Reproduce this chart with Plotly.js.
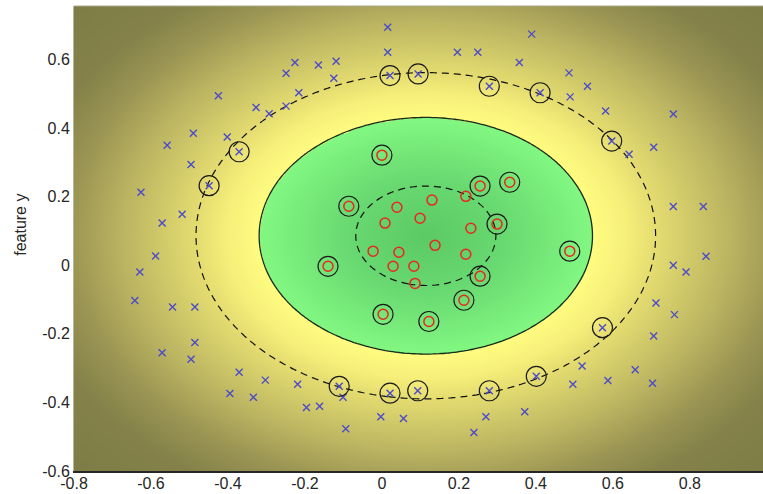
<!DOCTYPE html>
<html>
<head>
<meta charset="utf-8">
<script src="https://cdn.plot.ly/plotly-3.0.1.min.js"></script>
<style>html,body{margin:0;padding:0;background:#fff;}#chart{width:763px;height:494px;}</style>
</head>
<body>
<div id="chart"></div>
<script>
// ---- data ----
// class +1 (red circles), not support vectors
const posX = [-0.023, 0.044, 0.029, 0.083, 0.086, 0.008, 0.039, 0.099, 0.130, 0.218, 0.231, 0.138, 0.218];
const posY = [0.041, 0.038, -0.003, -0.003, -0.053, 0.123, 0.169, 0.137, 0.190, 0.201, 0.108, 0.058, 0.032];
// class +1 support vectors (circled)
const posSvX = [0.000, -0.086, -0.140, 0.003, 0.122, 0.213, 0.255, 0.299, 0.255, 0.332, 0.488];
const posSvY = [0.321, 0.172, -0.003, -0.143, -0.164, -0.102, -0.032, 0.120, 0.231, 0.242, 0.041];
// class -1 (blue crosses), not support vectors
const negX = [-0.626, -0.571, -0.519, -0.558, -0.490, -0.496, -0.425, -0.402, -0.327, -0.293, -0.249, -0.249,
  -0.226, -0.216, -0.165, -0.125, -0.119, 0.015, 0.015, 0.196, 0.249, 0.357, 0.389, 0.486, 0.534, 0.489,
  0.581, 0.757, 0.642, 0.706, 0.757, 0.835, 0.842, 0.757, 0.790, 0.712, 0.760, 0.706, 0.658, 0.703,
  0.587, 0.520, 0.496, 0.371, 0.270, 0.239, 0.056, -0.003, -0.094, -0.101, -0.162, -0.196, -0.219,
  -0.303, -0.334, -0.395, -0.371, -0.496, -0.571, -0.486, -0.486, -0.544, -0.642, -0.629, -0.588];
const negY = [0.213, 0.123, 0.149, 0.350, 0.385, 0.294, 0.494, 0.374, 0.460, 0.442, 0.464, 0.560,
  0.591, 0.503, 0.584, 0.545, 0.595, 0.694, 0.621, 0.621, 0.621, 0.591, 0.674, 0.561, 0.522, 0.491,
  0.450, 0.441, 0.324, 0.344, 0.171, 0.171, 0.026, 0.000, -0.020, -0.110, -0.144, -0.206, -0.305, -0.344,
  -0.336, -0.294, -0.347, -0.427, -0.442, -0.488, -0.447, -0.442, -0.477, -0.385, -0.411, -0.415, -0.347,
  -0.335, -0.385, -0.374, -0.312, -0.274, -0.255, -0.225, -0.122, -0.122, -0.103, -0.020, 0.027];
// class -1 support vectors (circled)
const negSvX = [-0.449, -0.371, 0.021, 0.094, 0.279, 0.411, 0.597, 0.573, 0.401, 0.279, 0.093, 0.021, -0.111];
const negSvY = [0.232, 0.331, 0.553, 0.558, 0.522, 0.503, 0.362, -0.182, -0.324, -0.366, -0.366, -0.373, -0.353];

// decision regions: ellipse centre, x/y axis ratio,
// and the x semi-axis of the +1 margin, the boundary and the -1 margin
const regionCentre = [0.114, 0.086];
const axisRatio = 1.255;
const marginInner = 0.182;
const boundary = 0.433;
const marginOuter = 0.597;

const xRange = [-0.8, 0.99];
const yRange = [-0.6, 0.756];
const xTicks = [-0.8, -0.6, -0.4, -0.2, 0, 0.2, 0.4, 0.6, 0.8];
const xTickText = ['-0.8', '-0.6', '-0.4', '-0.2', '0', '0.2', '0.4', '0.6', '0.8'];
const yTicks = [-0.6, -0.4, -0.2, 0, 0.2, 0.4, 0.6];
const yTickText = ['-0.6', '-0.4', '-0.2', '0', '0.2', '0.4', '0.6'];

// ---- background field: elliptical distance from the region centre ----
const NX = 220, NY = 170;
const gx = [], gy = [], gz = [];
for (let i = 0; i < NX; i++) gx.push(xRange[0] + (xRange[1] - xRange[0]) * i / (NX - 1));
for (let j = 0; j < NY; j++) gy.push(yRange[0] + (yRange[1] - yRange[0]) * j / (NY - 1));
for (let j = 0; j < NY; j++) {
  const row = [];
  for (let i = 0; i < NX; i++) {
    const dx = gx[i] - regionCentre[0];
    const dy = (gy[j] - regionCentre[1]) * axisRatio;
    row.push(Math.sqrt(dx * dx + dy * dy));
  }
  gz.push(row);
}
const zMax = 1.26;
const s = v => v / zMax;
const colorscale = [
  [0, '#5cca64'],
  [s(0.20), '#68d870'],
  [s(boundary) - 0.0005, '#82f882'],
  [s(boundary), '#fffc80'],
  [s(0.52), '#f6ef7a'],
  [s(marginOuter), '#e4dc70'],
  [s(0.78), '#bdb662'],
  [s(0.92), '#9c9654'],
  [s(1.05), '#84824a'],
  [1, '#7e7c46']
];

const traces = [
  {type: 'heatmap', x: gx, y: gy, z: gz, zmin: 0, zmax: zMax, zsmooth: 'best',
   colorscale: colorscale, showscale: false, hoverinfo: 'skip'},
  {type: 'contour', x: gx, y: gy, z: gz, showscale: false, hoverinfo: 'skip',
   autocontour: false, contours: {coloring: 'none', start: marginInner, end: marginOuter, size: marginOuter - marginInner},
   line: {color: '#111', width: 1.2, dash: '7px,5px', smoothing: 1}},
  {type: 'contour', x: gx, y: gy, z: gz, showscale: false, hoverinfo: 'skip',
   autocontour: false, contours: {coloring: 'none', start: boundary, end: boundary, size: 1},
   line: {color: '#1a2a1a', width: 1.3, smoothing: 1}},
  {type: 'scatter', mode: 'markers', x: negX.concat(negSvX), y: negY.concat(negSvY),
   marker: {symbol: 'x-thin-open', size: 7, color: '#4c4cc8', line: {color: '#4c4cc8', width: 1.4}}},
  {type: 'scatter', mode: 'markers', x: posX.concat(posSvX), y: posY.concat(posSvY),
   marker: {symbol: 'circle-open', size: 10, color: '#e8281e', line: {color: '#e8281e', width: 1.5}}},
  {type: 'scatter', mode: 'markers', x: posSvX.concat(negSvX), y: posSvY.concat(negSvY),
   marker: {symbol: 'circle-open', size: 20, color: '#1a1a1a', line: {color: '#1a1a1a', width: 1.2}}}
];

const layout = {
  width: 763, height: 494,
  margin: {l: 74, r: 0, t: 6, b: 23, pad: 0},
  paper_bgcolor: '#ffffff', plot_bgcolor: '#ffffff',
  showlegend: false,
  font: {family: 'Liberation Sans, Arial, sans-serif', size: 16, color: '#262626'},
  xaxis: {range: xRange, tickvals: xTicks, ticktext: xTickText, showgrid: false, zeroline: false,
          ticks: '', showline: true, linecolor: '#262626', linewidth: 2, tickfont: {size: 16},
          ticklabelstandoff: -3},
  yaxis: {range: yRange, tickvals: yTicks, ticktext: yTickText, showgrid: false, zeroline: false,
          ticks: '', showline: true, linecolor: '#b8b898', linewidth: 1, tickfont: {size: 16}},
  shapes: [{type: 'line', xref: 'paper', yref: 'paper', x0: 0, x1: 1, y0: 1, y1: 1,
            line: {color: '#a8a88a', width: 1}}],
  annotations: [{text: 'feature y', xref: 'paper', yref: 'paper', x: -0.078, y: 0.53,
                 xanchor: 'center', yanchor: 'middle', textangle: -90, showarrow: false,
                 font: {size: 16, color: '#262626'}}]
};

Plotly.newPlot('chart', traces, layout, {staticPlot: true, displayModeBar: false});
</script>
</body>
</html>
